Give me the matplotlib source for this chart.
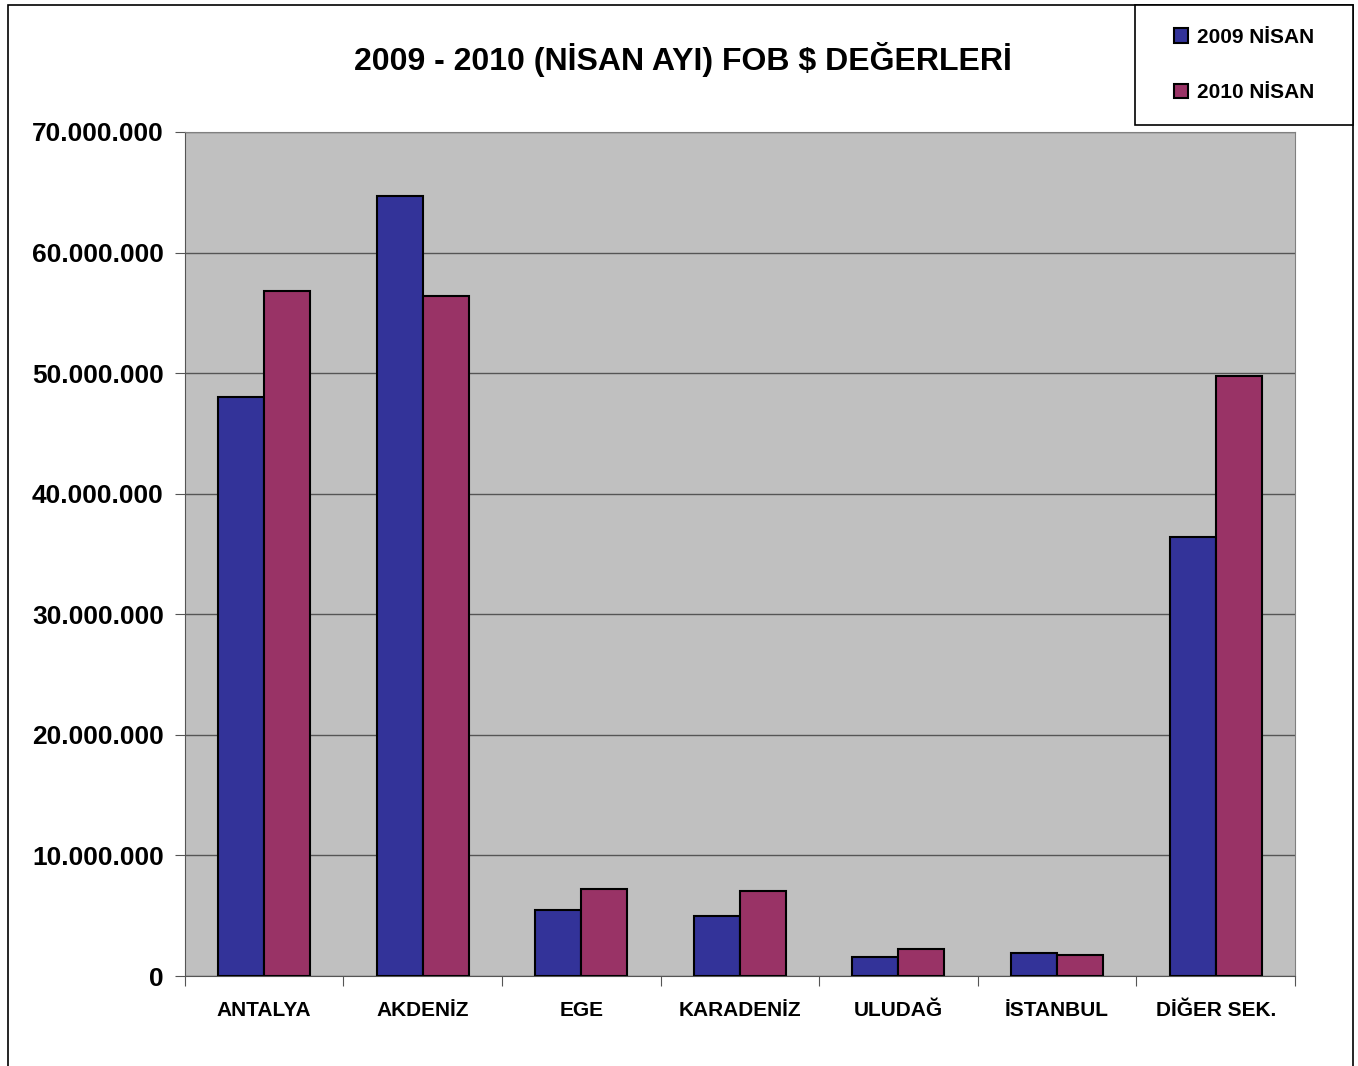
import matplotlib
matplotlib.use('Agg')
from matplotlib import pyplot as plt
from matplotlib.patches import Rectangle
from matplotlib.ticker import FuncFormatter
import numpy as np

plt.rcParams['font.family'] = ['Liberation Sans', 'DejaVu Sans']
plt.rcParams['font.weight'] = 'bold'

bolgeler = ['ANTALYA', 'AKDENİZ', 'EGE', 'KARADENİZ', 'ULUDAĞ', 'İSTANBUL', 'DİĞER SEK.']
nisan_2009 = [48.0e6, 64.7e6, 5.45e6, 4.95e6, 1.58e6, 1.9e6, 36.4e6]
nisan_2010 = [56.8e6, 56.4e6, 7.2e6, 7.05e6, 2.25e6, 1.75e6, 49.8e6]
seriler = ['2009 NİSAN', '2010 NİSAN']

W, H = 1358, 1066
fig = plt.figure(figsize=(W / 100, H / 100), dpi=100)
ax = fig.add_axes([0.136, 0.0844, 0.8176, 0.7918])
ax.set_facecolor('#c0c0c0')

x = np.arange(len(bolgeler))
w = 0.29
ax.bar(x - w/2, nisan_2009, width=w, color='#333399', edgecolor='black', linewidth=1.5, label=seriler[0], zorder=3)
ax.bar(x + w/2, nisan_2010, width=w, color='#993366', edgecolor='black', linewidth=1.5, label=seriler[1], zorder=3)

ax.set_xlim(-0.5, len(bolgeler) - 0.5)
ax.set_ylim(0, 70e6)
ax.set_yticks(np.arange(0, 70e6 + 1, 10e6))
ax.yaxis.set_major_formatter(FuncFormatter(lambda v, p: '0' if v == 0 else f'{int(v):,}'.replace(',', '.')))
ax.grid(axis='y', color='#555555', linewidth=1, zorder=1)
ax.set_xticks(np.arange(-0.5, len(bolgeler), 1), minor=False)
ax.set_xticklabels([])
ax.set_xticks(x, minor=True)
ax.set_xticklabels(bolgeler, minor=True, fontsize=15, fontweight='bold')
ax.tick_params(axis='x', which='minor', length=0, pad=18)
ax.tick_params(axis='x', which='major', length=7, color='#555555', direction='out')
ax.tick_params(axis='y', length=7, color='#555555', labelsize=19, pad=8)
for s in ['top', 'right']:
    ax.spines[s].set_color('#808080')
for s in ['left', 'bottom']:
    ax.spines[s].set_color('#555555')

fig.text(0.503, 0.944, '2009 - 2010 (NİSAN AYI) FOB $ DEĞERLERİ', ha='center', va='center',
         fontsize=23, fontweight='bold')

# cerceve
fig.add_artist(Rectangle((8 / W, -0.01), 1345 / W, 1 - 5 / H + 0.01, transform=fig.transFigure,
                         fill=False, edgecolor='black', linewidth=1.2))

# lejant kutusu
fig.add_artist(Rectangle((1135 / W, 1 - 125 / H), 218 / W, 120 / H, transform=fig.transFigure,
                         facecolor='white', edgecolor='black', linewidth=1.2, zorder=4))
leg = fig.legend(loc='center', bbox_to_anchor=(1135 / W, 1 - 125 / H, 218 / W, 120 / H),
                 frameon=False, fontsize=15, handlelength=0.7, handleheight=0.7,
                 handletextpad=0.4, labelspacing=1.75)
leg.set_zorder(5)
for t in leg.get_texts():
    t.set_fontweight('bold')

plt.savefig('out.png', dpi=100)
